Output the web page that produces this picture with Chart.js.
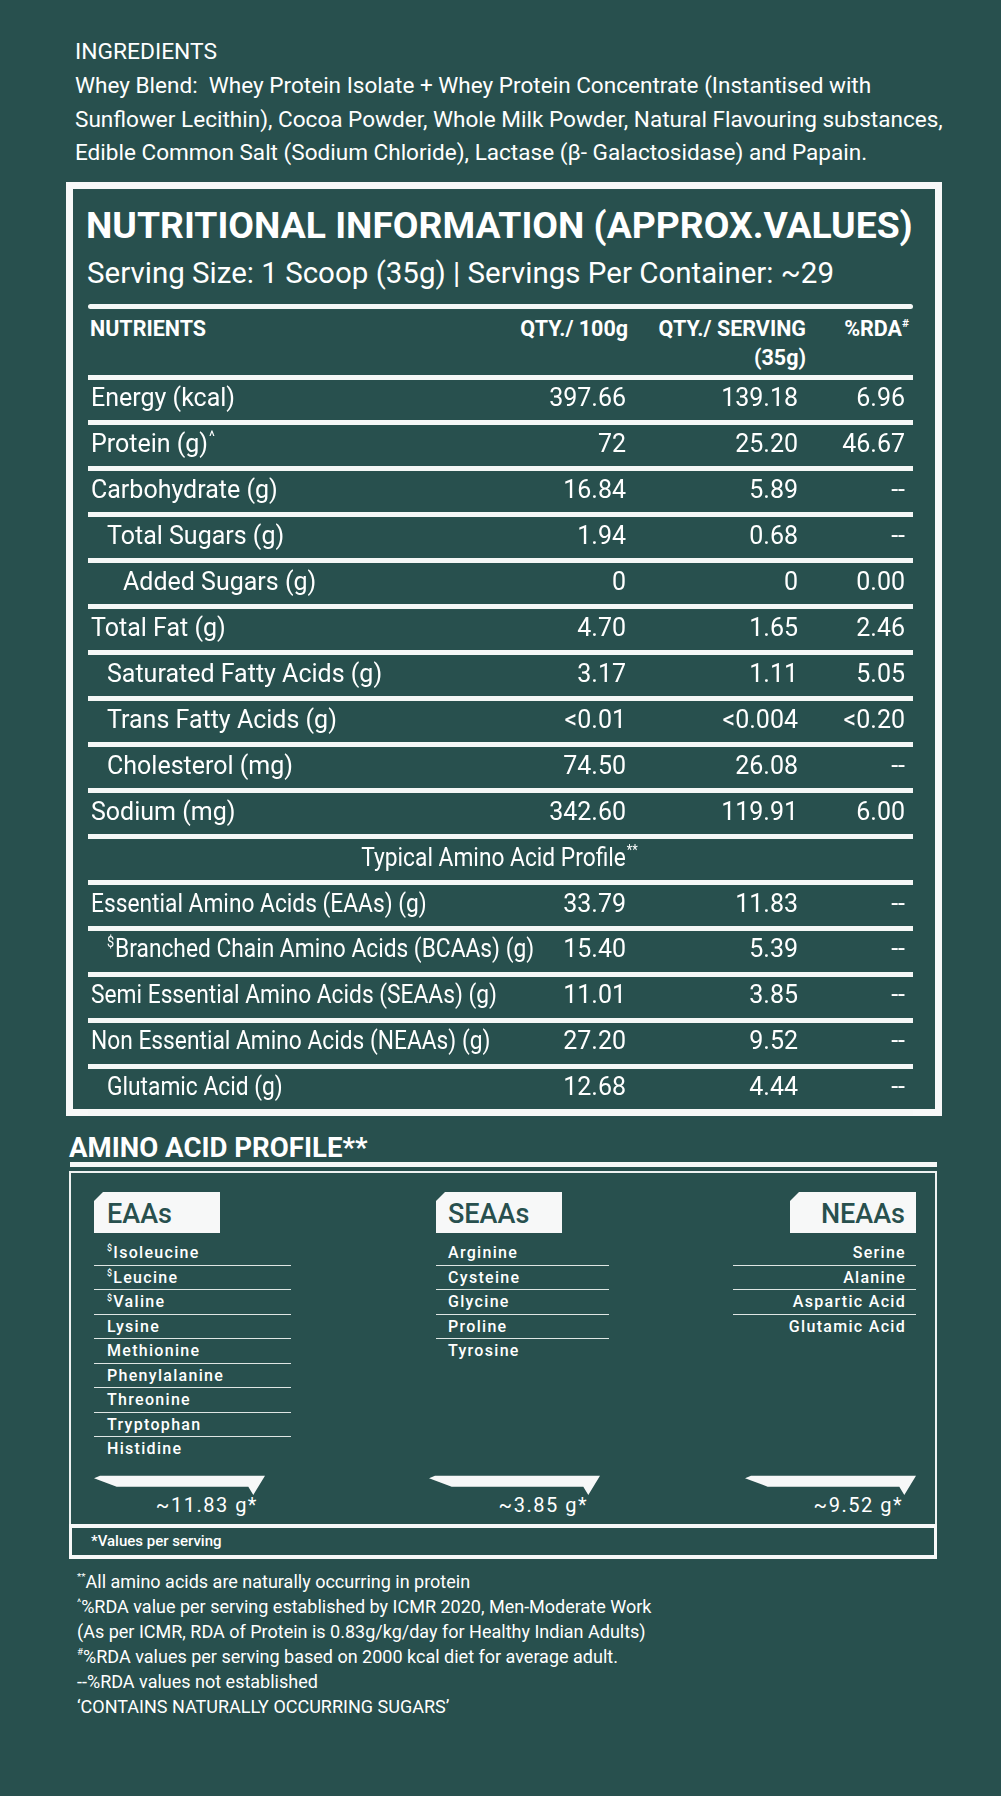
<!DOCTYPE html>
<html>
<head>
<meta charset="utf-8">
<title>Nutritional Information</title>
<script src="https://cdn.jsdelivr.net/npm/chart.js@4.4.1/dist/chart.umd.min.js"></script>
<style>
  html, body { margin: 0; padding: 0; }
  body {
    width: 1001px; height: 1796px; position: relative; overflow: hidden;
    background: #28504e; color: #ffffff;
    font-family: 'Roboto', 'Liberation Sans', sans-serif;
  }
  .abs { position: absolute; white-space: nowrap; }
  sup { font-size: 55%; vertical-align: 0; position: relative; top: -0.75em; line-height: 0; }
  .rule { position: absolute; background: #f5f7f6; }
  #ingTitle { left: 75px; top: 39px; font-size: 22.8px; line-height: 26px; }
  #ingText { left: 75px; top: 69px; font-size: 22.55px; line-height: 33.5px; }
  #box { position: absolute; left: 66px; top: 182px; width: 876px; height: 934px;
         border: 7px solid #f7f8f8; box-sizing: border-box; }
  #title { left: 86px; top: 204px; font-size: 37.3px; font-weight: 700; line-height: 42px; }
  #serving { left: 87px; top: 256px; font-size: 29.5px; line-height: 34px; }
  .hdr { top: 314px; font-size: 21.5px; font-weight: 700; line-height: 29px; }
  #tableChart { position: absolute; left: 88px; top: 372px; }
  #aaTitle { left: 69px; top: 1133px; font-size: 27.6px; font-weight: 700; line-height: 30px; }
  #aaBox { position: absolute; left: 69px; top: 1171px; width: 868px; height: 355px;
           border: 2.5px solid #eef2f1; box-sizing: border-box; }
  #aaFoot { position: absolute; left: 69px; top: 1524px; width: 868px; height: 35px;
            border: 3px solid #f7f8f8; border-top-width: 4px; border-bottom-width: 4px; box-sizing: border-box;
            font-size: 15px; font-weight: 500; line-height: 27px; padding-left: 19px; }
  .tag { position: absolute; top: 1192px; width: 126px; height: 41px; background: #f7f8f8;
         color: #28504e; font-size: 27px; font-weight: 500; line-height: 44px; overflow: hidden;
         clip-path: polygon(9px 0, 100% 0, 100% 100%, 0 100%, 0 9px); box-sizing: border-box; }
  .list { position: absolute; top: 1241px; }
  .list div { height: 24.55px; box-sizing: border-box; border-bottom: 1.5px solid #dfe6e4;
              font-size: 16px; font-weight: 500; letter-spacing: 1.3px; line-height: 24px; }
  .list div:last-child { border-bottom: none; }
  .arrow { position: absolute; top: 1474px; }
  .total { top: 1492px; font-size: 20px; letter-spacing: 1.5px; line-height: 26px; text-align: right; width: 160px; }
  #notes { left: 77px; top: 1568.5px; font-size: 18px; line-height: 25px; }
</style>
</head>
<body>

<div class="abs" id="ingTitle">INGREDIENTS</div>
<div class="abs" id="ingText">Whey Blend:&nbsp; Whey Protein Isolate + Whey Protein Concentrate (Instantised with<br>Sunflower Lecithin), Cocoa Powder, Whole Milk Powder, Natural Flavouring substances,<br>Edible Common Salt (Sodium Chloride), Lactase (β- Galactosidase) and Papain.</div>

<div id="box"></div>
<div class="abs" id="title">NUTRITIONAL INFORMATION (APPROX.VALUES)</div>
<div class="abs" id="serving">Serving Size: 1 Scoop (35g) | Servings Per Container: ~29</div>
<div class="rule" style="left:88px; top:303.5px; width:825px; height:5px; border-radius:3px;"></div>
<div id="headerRow"></div>
<canvas id="tableChart" width="825" height="745" style="width:825px; height:745px;"></canvas>

<div class="abs" id="aaTitle">AMINO ACID PROFILE**</div>
<div class="rule" style="left:70px; top:1162px; width:867px; height:4.5px;"></div>
<div id="aaBox"></div>
<div id="aaFoot">*Values per serving</div>
<div id="aminoGroups"></div>

<div class="abs" id="notes"><sup>**</sup>All amino acids are naturally occurring in protein<br><sup>^</sup>%RDA value per serving established by ICMR 2020, Men-Moderate Work<br>(As per ICMR, RDA of Protein is 0.83g/kg/day for Healthy Indian Adults)<br><sup>#</sup>%RDA values per serving based on 2000 kcal diet for average adult.<br>--%RDA values not established<br>‘CONTAINS NATURALLY OCCURRING SUGARS’</div>

<script>
// table rows (level: 0 = main, 1/2 = indented, -1 = section heading)
var nutrientNames = [
  'Energy (kcal)', 'Protein (g)^', 'Carbohydrate (g)', 'Total Sugars (g)', 'Added Sugars (g)',
  'Total Fat (g)', 'Saturated Fatty Acids (g)', 'Trans Fatty Acids (g)', 'Cholesterol (mg)', 'Sodium (mg)',
  'Typical Amino Acid Profile**',
  'Essential Amino Acids (EAAs) (g)', '$Branched Chain Amino Acids (BCAAs) (g)',
  'Semi Essential Amino Acids (SEAAs) (g)', 'Non Essential Amino Acids (NEAAs) (g)', 'Glutamic Acid (g)'
];
var nutrientLevel = [0, 0, 0, 1, 2, 0, 1, 1, 1, 0, -1, 0, 1, 0, 0, 1];

var columnHeaders = ['QTY./ 100g', 'QTY./ SERVING|(35g)', '%RDA#'];

var qtyPer100g = ['397.66', '72', '16.84', '1.94', '0', '4.70', '3.17', '<0.01', '74.50', '342.60',
  null, '33.79', '15.40', '11.01', '27.20', '12.68'];
var qtyPerServing = ['139.18', '25.20', '5.89', '0.68', '0', '1.65', '1.11', '<0.004', '26.08', '119.91',
  null, '11.83', '5.39', '3.85', '9.52', '4.44'];
var rdaPercent = ['6.96', '46.67', '--', '--', '0.00', '2.46', '5.05', '<0.20', '--', '6.00',
  null, '--', '--', '--', '--', '--'];

// amino acid profile
var aminoGroupNames = ['EAAs', 'SEAAs', 'NEAAs'];
var eaaList = ['$Isoleucine', '$Leucine', '$Valine', 'Lysine', 'Methionine', 'Phenylalanine', 'Threonine', 'Tryptophan', 'Histidine'];
var seaaList = ['Arginine', 'Cysteine', 'Glycine', 'Proline', 'Tyrosine'];
var neaaList = ['Serine', 'Alanine', 'Aspartic Acid', 'Glutamic Acid'];
var aminoTotals = ['~11.83 g*', '~3.85 g*', '~9.52 g*'];

var WHITE = '#ffffff';

// column anchors (right edge of each value column, in x-scale units)
var columnRight = [538, 710, 817];

function supHtml(text) {
  return text.replace(/^([$^#*]+)/, '<sup>$1</sup>').replace(/([$^#*]+)$/, '<sup>$1</sup>');
}

function buildHeader() {
  var row = document.getElementById('headerRow');
  var html = '<div class="abs hdr" style="left:90px;">NUTRIENTS</div>';
  var rightEdges = [628, 806, 909];
  columnHeaders.forEach(function (h, i) {
    html += '<div class="abs hdr" style="left:' + (rightEdges[i] - 250) + 'px; width:250px; text-align:right;">' +
      h.split('|').map(supHtml).join('<br>') + '</div>';
  });
  row.innerHTML = html;
}

function buildAminoGroups() {
  var holder = document.getElementById('aminoGroups');
  var lists = [eaaList, seaaList, neaaList];
  var groupLeft = [94, 436, 790];
  var listBox = [[94, 197, 'left'], [436, 173, 'left'], [733, 183, 'right']];
  var arrowLeft = [94, 429, 745];
  var totalRight = [258, 588, 903];
  var html = '';

  aminoGroupNames.forEach(function (name, i) {
    var right = listBox[i][2] === 'right';
    html += '<div class="tag" style="left:' + groupLeft[i] + 'px;' +
      (right ? 'text-align:right; padding-right:11px;' : 'padding-left:' + (i === 0 ? 13 : 12) + 'px;') + '">' + name + '</div>';

    html += '<div class="list" style="left:' + listBox[i][0] + 'px; width:' + listBox[i][1] + 'px; text-align:' + listBox[i][2] + ';">';
    lists[i].forEach(function (item) {
      html += '<div style="' + (right ? 'padding-right:10px;' : 'padding-left:' + (i === 0 ? 13 : 12) + 'px;') + '">' + supHtml(item) + '</div>';
    });
    html += '</div>';

    html += '<svg class="arrow" style="left:' + arrowLeft[i] + 'px;" width="172" height="24" viewBox="0 0 172 24">' +
      '<polygon points="0,4.3 6,1.7 171,1.7 159.3,21 154.3,12.7 22.7,12.7" fill="#f7f8f8"/></svg>';
    html += '<div class="abs total" style="left:' + (totalRight[i] - 160) + 'px;">' + aminoTotals[i] + '</div>';
  });
  holder.innerHTML = html;
}

// text with leading / trailing superscript markers, optionally squeezed horizontally
function drawRich(ctx, text, x, y, align, size, squeeze) {
  var k = squeeze || 1;
  var pre = (text.match(/^[$^#*]+/) || [''])[0];
  var post = (text.match(/[$^#*]+$/) || [''])[0];
  var main = text.substring(pre.length, text.length - post.length);
  var mainFont = size + 'px Roboto';
  var supFont = Math.round(size * 0.55) + 'px Roboto';

  ctx.font = supFont;
  var wPre = pre ? ctx.measureText(pre).width + 1 : 0;
  var wPost = post ? ctx.measureText(post).width + 1 : 0;
  ctx.font = mainFont;
  var wMain = ctx.measureText(main).width;
  var total = (wPre + wMain + wPost) * k;

  var sx = x;
  if (align === 'right') sx = x - total;
  else if (align === 'center') sx = x - total / 2;

  ctx.save();
  ctx.translate(sx, y);
  ctx.scale(k, 1);
  ctx.textAlign = 'left';
  ctx.textBaseline = 'middle';
  if (pre) {
    ctx.font = supFont;
    ctx.fillText(pre, 0, -size * 0.32);
  }
  ctx.font = mainFont;
  ctx.fillText(main, wPre, 0);
  if (post) {
    ctx.font = supFont;
    ctx.fillText(post, wPre + wMain + 1, -size * 0.32);
  }
  ctx.restore();
}

var tableTextPlugin = {
  id: 'tableText',
  afterDatasetsDraw: function (chart) {
    var ctx = chart.ctx;
    var xScale = chart.scales.x;
    var yScale = chart.scales.y;
    var aminoSection = false;
    ctx.save();
    ctx.fillStyle = WHITE;

    nutrientNames.forEach(function (name, i) {
      var py = yScale.getPixelForValue(i);
      if (nutrientLevel[i] < 0) {
        aminoSection = true;
        drawRich(ctx, name, (xScale.left + xScale.right) / 2 - 1, py, 'center', 25, 0.91);
      } else {
        drawRich(ctx, name, xScale.left + 3 + nutrientLevel[i] * 16, py, 'left', 25, aminoSection ? 0.91 : 1);
      }
    });

    chart.data.datasets.forEach(function (ds, di) {
      var meta = chart.getDatasetMeta(di);
      meta.data.forEach(function (pt, j) {
        drawRich(ctx, ds.data[j].text, pt.x, pt.y, 'right', 25);
      });
    });
    ctx.restore();
  }
};

function columnDataset(values, col) {
  var pts = [];
  values.forEach(function (v, i) {
    if (v !== null) pts.push({ x: columnRight[col], y: nutrientNames[i], text: v });
  });
  return { data: pts, pointRadius: 0, pointHoverRadius: 0, showLine: false };
}

function drawTable() {
  Chart.defaults.font.family = 'Roboto';
  var ctx = document.getElementById('tableChart').getContext('2d');
  window.nutritionChart = new Chart(ctx, {
    type: 'scatter',
    data: {
      datasets: [
        columnDataset(qtyPer100g, 0),
        columnDataset(qtyPerServing, 1),
        columnDataset(rdaPercent, 2)
      ]
    },
    options: {
      responsive: false,
      animation: false,
      events: [],
      layout: { padding: { top: 5, bottom: 5, left: 0, right: 0 } },
      plugins: { legend: { display: false }, tooltip: { enabled: false } },
      scales: {
        x: { type: 'linear', min: 0, max: 825, display: false },
        y: {
          type: 'category',
          labels: nutrientNames,
          offset: true,
          grid: { offset: true, color: '#f5f7f6', lineWidth: 5, drawTicks: false },
          border: { display: false },
          ticks: { display: false }
        }
      }
    },
    plugins: [tableTextPlugin]
  });
}

buildHeader();
buildAminoGroups();
drawTable();
</script>
</body>
</html>
